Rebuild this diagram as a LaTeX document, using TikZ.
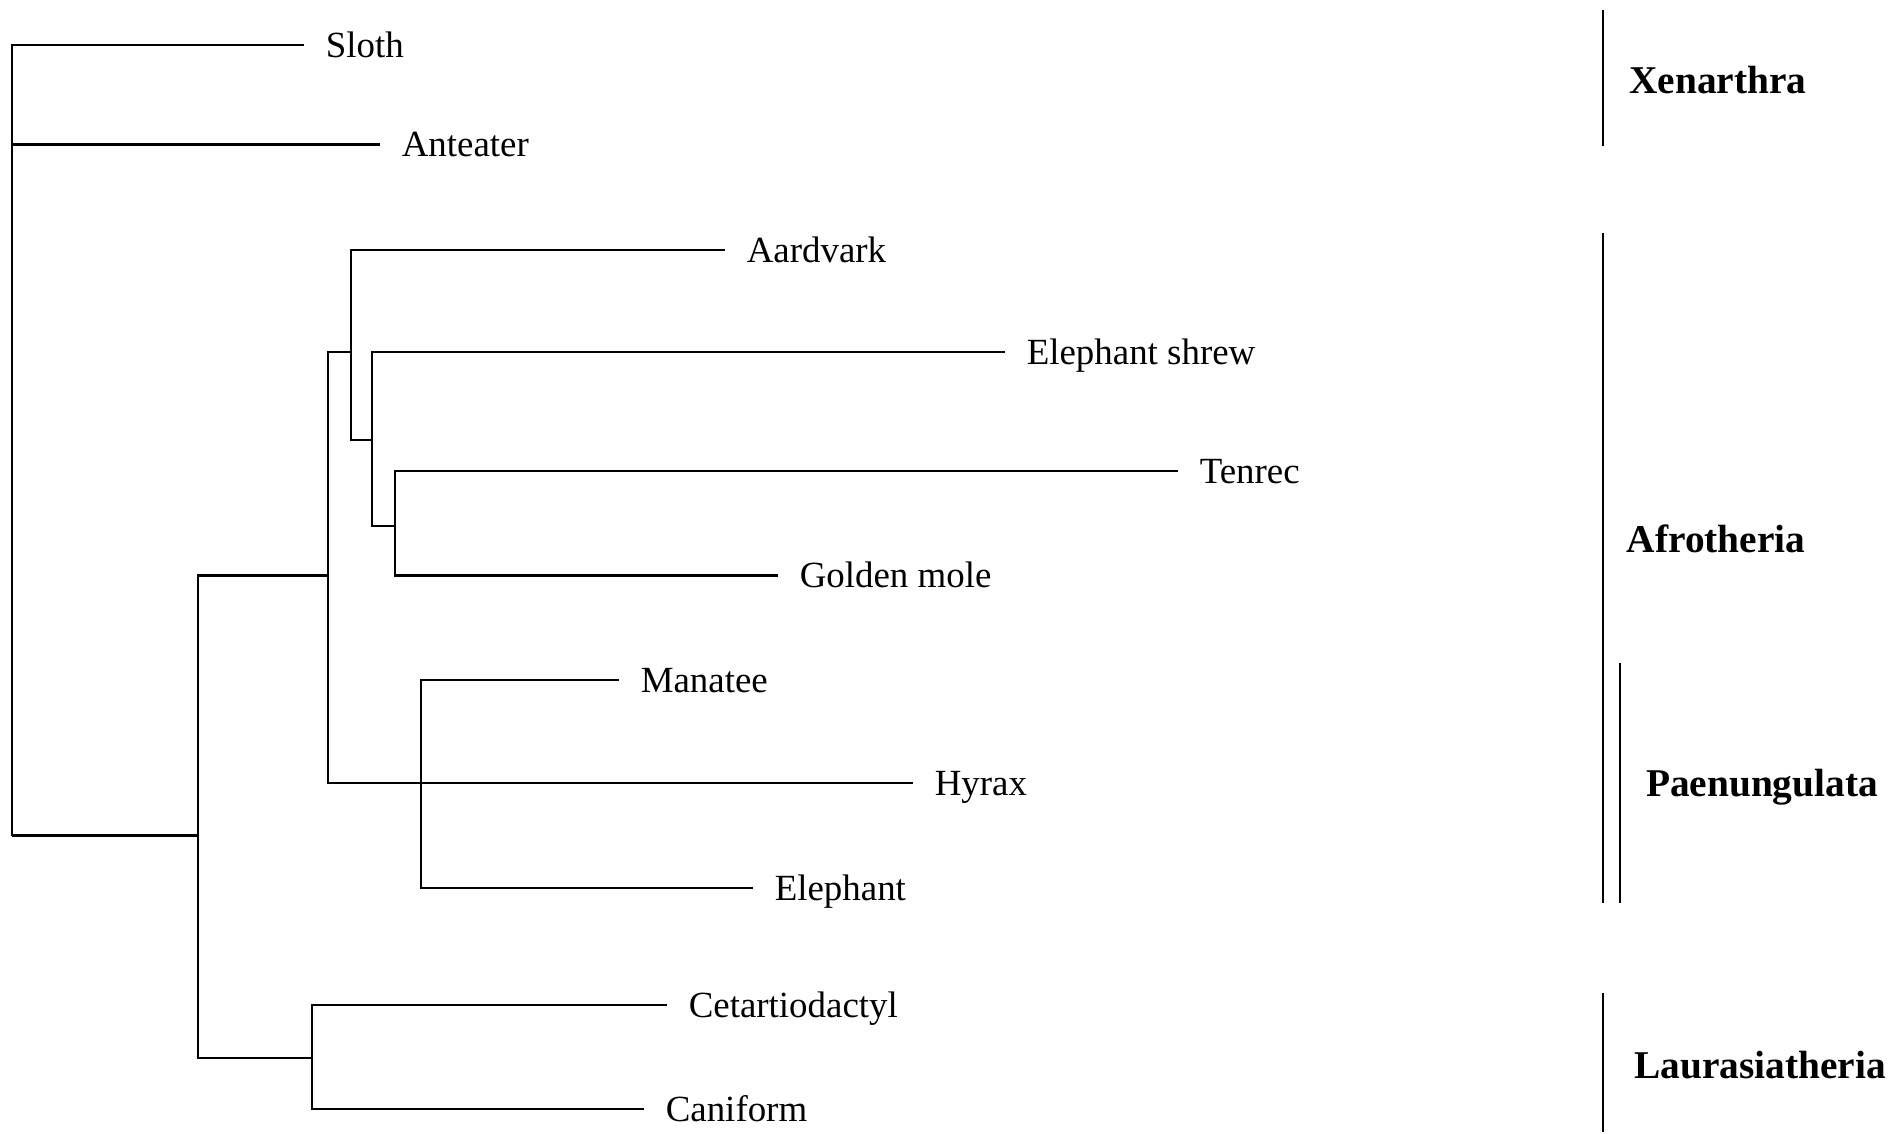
\documentclass[tikz,border=0pt]{standalone}
\usepackage{fontspec}
\setmainfont{Liberation Serif}
\usepackage{tikz}

\tikzset{
  leaf/.style={anchor=west, inner xsep=6pt, inner ysep=0pt, text height=1.5ex, text depth=0pt},
  clade/.style={font=\fontsize{11.2}{13}\selectfont\bfseries, inner sep=0pt},
  branch/.style={line width=0.7pt},
  bar/.style={line width=0.8pt}
}

\begin{document}
\begin{tikzpicture}[font=\fontsize{10.5}{12}\selectfont]
\useasboundingbox (0,0) rectangle (19.04,-11.34);

\node[leaf] (sloth) at (3.04, -0.45) {Sloth};
\node[leaf] (anteater) at (3.80, -1.445) {Anteater};
\node[leaf] (aardvark) at (7.25, -2.50) {Aardvark};
\node[leaf] (eshrew) at (10.05, -3.52) {Elephant shrew};
\node[leaf] (tenrec) at (11.78, -4.71) {Tenrec};
\node[leaf] (gmole) at (7.78, -5.755) {Golden mole};
\node[leaf] (manatee) at (6.19, -6.80) {Manatee};
\node[leaf] (hyrax) at (9.13, -7.83) {Hyrax};
\node[leaf] (elephant) at (7.53, -8.88) {Elephant};
\node[leaf] (cetart) at (6.67, -10.05) {Cetartiodactyl};
\node[leaf] (caniform) at (6.44, -11.09) {Caniform};

\coordinate (root) at (0.12, -8.355);
\coordinate (afrolaur) at (1.98, -8.355);
\coordinate (afro) at (3.28, -5.755);
\coordinate (a2) at (3.51, -3.52);
\coordinate (a3) at (3.72, -4.40);
\coordinate (a4) at (3.95, -5.26);
\coordinate (paen) at (4.21, -7.83);
\coordinate (laur) at (3.12, -10.58);

\draw[branch] (root) |- (sloth.west);
\draw[branch] (root) |- (anteater.west);
\draw[branch] (root) -- (afrolaur);
\draw[branch] (afrolaur) |- (afro);
\draw[branch] (afrolaur) |- (laur);
\draw[branch] (afro) |- (a2);
\draw[branch] (afro) |- (hyrax.west);
\draw[branch] (a2) |- (aardvark.west);
\draw[branch] (a2) |- (a3);
\draw[branch] (a3) |- (eshrew.west);
\draw[branch] (a3) |- (a4);
\draw[branch] (a4) |- (tenrec.west);
\draw[branch] (a4) |- (gmole.west);
\draw[branch] (paen) |- (manatee.west);
\draw[branch] (paen) |- (elephant.west);
\draw[branch] (laur) |- (cetart.west);
\draw[branch] (laur) |- (caniform.west);

\draw[bar] (16.03, -0.10) -- (16.03, -1.46);
\draw[bar] (16.03, -2.33) -- (16.03, -9.03);
\draw[bar] (16.20, -6.63) -- (16.20, -9.03);
\draw[bar] (16.03, -9.93) -- (16.03, -11.32);

\node[clade] (xen) at (17.18, -0.80) {Xenarthra};
\node[clade] (afrolbl) at (17.16, -5.39) {Afrotheria};
\node[clade] (paenlbl) at (17.62, -7.87) {Paenungulata};
\node[clade] (laurlbl) at (17.60, -10.65) {Laurasiatheria};
\end{tikzpicture}
\end{document}
